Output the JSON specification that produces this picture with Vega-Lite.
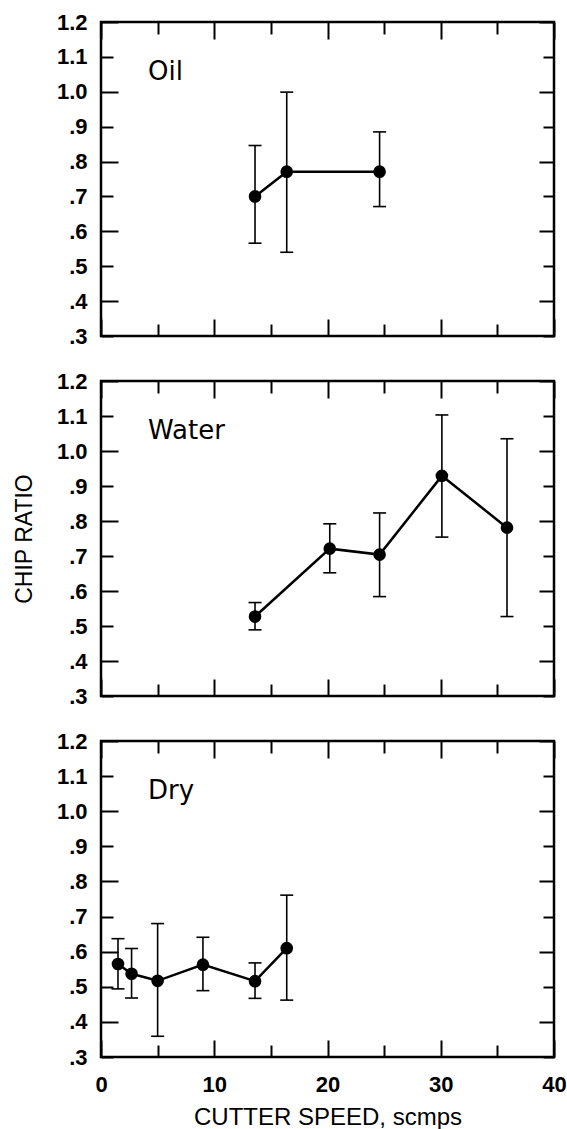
{
  "$schema": "https://vega.github.io/schema/vega-lite/v6.json",
  "padding": {"top": 9, "left": 12, "right": 12, "bottom": 2},
  "spacing": 19,
  "datasets": {
    "d": [
      {"fluid": "Oil", "speed": 13.6, "ratio": 0.700, "lo": 0.566, "hi": 0.846},
      {"fluid": "Oil", "speed": 16.4, "ratio": 0.771, "lo": 0.540, "hi": 0.999},
      {"fluid": "Oil", "speed": 24.6, "ratio": 0.771, "lo": 0.671, "hi": 0.885},
      {"fluid": "Water", "speed": 13.6, "ratio": 0.527, "lo": 0.489, "hi": 0.567},
      {"fluid": "Water", "speed": 20.2, "ratio": 0.721, "lo": 0.652, "hi": 0.792},
      {"fluid": "Water", "speed": 24.6, "ratio": 0.704, "lo": 0.584, "hi": 0.823},
      {"fluid": "Water", "speed": 30.1, "ratio": 0.929, "lo": 0.754, "hi": 1.103},
      {"fluid": "Water", "speed": 35.85, "ratio": 0.781, "lo": 0.527, "hi": 1.035},
      {"fluid": "Dry", "speed": 1.5, "ratio": 0.565, "lo": 0.494, "hi": 0.637},
      {"fluid": "Dry", "speed": 2.7, "ratio": 0.537, "lo": 0.468, "hi": 0.609},
      {"fluid": "Dry", "speed": 5.0, "ratio": 0.517, "lo": 0.359, "hi": 0.680},
      {"fluid": "Dry", "speed": 9.0, "ratio": 0.563, "lo": 0.489, "hi": 0.641},
      {"fluid": "Dry", "speed": 13.6, "ratio": 0.516, "lo": 0.467, "hi": 0.568},
      {"fluid": "Dry", "speed": 16.4, "ratio": 0.610, "lo": 0.462, "hi": 0.761}
    ]
  },
  "config": {
    "view": {"stroke": "black", "strokeWidth": 2.5},
    "font": "Liberation Sans",
    "axis": {
      "domain": false, "grid": false, "tickColor": "black", "tickWidth": 2,
      "labelColor": "black", "titleColor": "black", "labelFont": "Liberation Sans",
      "labelFontSize": 22, "labelFontWeight": "bold", "labelFlush": false,
      "labelOverlap": false, "labelBound": false
    },
    "title": {
      "anchor": "start", "frame": "group", "dx": 47, "offset": -74, "baseline": "alphabetic",
      "font": "DejaVu Sans", "fontSize": 26, "fontWeight": "normal", "color": "black"
    }
  },
  "vconcat": [
    {
      "width": 453, "height": 314,
      "title": {"text": "Oil"},
      "data": {"name": "d"},
      "transform": [{"filter": "datum.fluid === 'Oil'"}],
      "layer": [
        {
          "mark": {"type": "rule", "color": "black", "strokeWidth": 1.6},
          "encoding": {
            "x": {"field": "speed", "type": "quantitative", "scale": {"domain": [0, 40], "nice": false, "zero": false}, "axis": null},
            "y": {"field": "lo", "type": "quantitative", "scale": {"domain": [0.3, 1.2], "nice": false, "zero": false},
              "axis": {"orient": "left", "values": [0.3,0.4,0.5,0.6,0.7,0.8,0.9,1.0,1.1,1.2], "ticks": false, "labelPadding": 14,
                "labelExpr": "datum.value >= 0.95 ? format(datum.value, '.1f') : '.' + format(round(datum.value*10), 'd')", "title": null}},
            "y2": {"field": "hi"}
          }
        },
        {
          "mark": {"type": "tick", "orient": "horizontal", "size": 13, "thickness": 1.6, "color": "black", "opacity": 1},
          "encoding": {
            "x": {"field": "speed", "type": "quantitative", "axis": {"orient": "bottom", "values": [0,5,10,15,20,25,30,35,40], "labels": false, "title": null,
              "tickSize": {"condition": {"test": "datum.value % 10 === 0", "value": -17}, "value": -12}}},
            "y": {"field": "lo", "type": "quantitative", "axis": {"orient": "left", "values": [0.3,0.4,0.5,0.6,0.7,0.8,0.9,1.0,1.1,1.2], "labels": false, "title": null,
              "tickSize": {"condition": {"test": "round(datum.value*10) % 2 === 0", "value": -17}, "value": -12}}}
          }
        },
        {
          "mark": {"type": "tick", "orient": "horizontal", "size": 13, "thickness": 1.6, "color": "black", "opacity": 1},
          "encoding": {
            "x": {"field": "speed", "type": "quantitative", "axis": {"orient": "top", "values": [0,5,10,15,20,25,30,35,40], "labels": false, "title": null,
              "tickSize": {"condition": {"test": "datum.value % 10 === 0", "value": -17}, "value": -12}}},
            "y": {"field": "hi", "type": "quantitative", "axis": {"orient": "right", "values": [0.3,0.4,0.5,0.6,0.7,0.8,0.9,1.0,1.1,1.2], "labels": false, "title": null,
              "tickSize": {"condition": {"test": "round(datum.value*10) % 2 === 0", "value": -15}, "value": -11}}}
          }
        },
        {
          "mark": {"type": "line", "color": "black", "strokeWidth": 2.5},
          "encoding": {
            "x": {"field": "speed", "type": "quantitative", "axis": null},
            "y": {"field": "ratio", "type": "quantitative", "axis": null}
          }
        },
        {
          "mark": {"type": "point", "filled": true, "size": 160, "color": "black", "opacity": 1},
          "encoding": {
            "x": {"field": "speed", "type": "quantitative", "axis": null},
            "y": {"field": "ratio", "type": "quantitative", "axis": null}
          }
        }
      ],
      "resolve": {"axis": {"x": "independent", "y": "independent"}}
    },
    {
      "width": 453, "height": 315,
      "title": {"text": "Water"},
      "data": {"name": "d"},
      "transform": [{"filter": "datum.fluid === 'Water'"}],
      "layer": [
        {
          "mark": {"type": "rule", "color": "black", "strokeWidth": 1.6},
          "encoding": {
            "x": {"field": "speed", "type": "quantitative", "scale": {"domain": [0, 40], "nice": false, "zero": false}, "axis": null},
            "y": {"field": "lo", "type": "quantitative", "scale": {"domain": [0.3, 1.2], "nice": false, "zero": false},
              "axis": {"orient": "left", "values": [0.3,0.4,0.5,0.6,0.7,0.8,0.9,1.0,1.1,1.2], "ticks": false, "labelPadding": 14,
                "labelExpr": "datum.value >= 0.95 ? format(datum.value, '.1f') : '.' + format(round(datum.value*10), 'd')",
                "title": "CHIP RATIO", "titleFontSize": 23, "titleFontWeight": "normal", "titlePadding": 20}},
            "y2": {"field": "hi"}
          }
        },
        {
          "mark": {"type": "tick", "orient": "horizontal", "size": 13, "thickness": 1.6, "color": "black", "opacity": 1},
          "encoding": {
            "x": {"field": "speed", "type": "quantitative", "axis": {"orient": "bottom", "values": [0,5,10,15,20,25,30,35,40], "labels": false, "title": null,
              "tickSize": {"condition": {"test": "datum.value % 10 === 0", "value": -17}, "value": -12}}},
            "y": {"field": "lo", "type": "quantitative", "axis": {"orient": "left", "values": [0.3,0.4,0.5,0.6,0.7,0.8,0.9,1.0,1.1,1.2], "labels": false, "title": null,
              "tickSize": {"condition": {"test": "round(datum.value*10) % 2 === 0", "value": -17}, "value": -12}}}
          }
        },
        {
          "mark": {"type": "tick", "orient": "horizontal", "size": 13, "thickness": 1.6, "color": "black", "opacity": 1},
          "encoding": {
            "x": {"field": "speed", "type": "quantitative", "axis": {"orient": "top", "values": [0,5,10,15,20,25,30,35,40], "labels": false, "title": null,
              "tickSize": {"condition": {"test": "datum.value % 10 === 0", "value": -17}, "value": -12}}},
            "y": {"field": "hi", "type": "quantitative", "axis": {"orient": "right", "values": [0.3,0.4,0.5,0.6,0.7,0.8,0.9,1.0,1.1,1.2], "labels": false, "title": null,
              "tickSize": {"condition": {"test": "round(datum.value*10) % 2 === 0", "value": -15}, "value": -11}}}
          }
        },
        {
          "mark": {"type": "line", "color": "black", "strokeWidth": 2.5},
          "encoding": {
            "x": {"field": "speed", "type": "quantitative", "axis": null},
            "y": {"field": "ratio", "type": "quantitative", "axis": null}
          }
        },
        {
          "mark": {"type": "point", "filled": true, "size": 160, "color": "black", "opacity": 1},
          "encoding": {
            "x": {"field": "speed", "type": "quantitative", "axis": null},
            "y": {"field": "ratio", "type": "quantitative", "axis": null}
          }
        }
      ],
      "resolve": {"axis": {"x": "independent", "y": "independent"}}
    },
    {
      "width": 453, "height": 316,
      "title": {"text": "Dry"},
      "data": {"name": "d"},
      "transform": [{"filter": "datum.fluid === 'Dry'"}],
      "layer": [
        {
          "mark": {"type": "rule", "color": "black", "strokeWidth": 1.6},
          "encoding": {
            "x": {"field": "speed", "type": "quantitative", "scale": {"domain": [0, 40], "nice": false, "zero": false},
              "axis": {"orient": "bottom", "values": [0,10,20,30,40], "ticks": false, "labelPadding": 17,
                "title": "CUTTER SPEED, scmps", "titleFontSize": 24, "titleFontWeight": "normal", "titlePadding": 10}},
            "y": {"field": "lo", "type": "quantitative", "scale": {"domain": [0.3, 1.2], "nice": false, "zero": false},
              "axis": {"orient": "left", "values": [0.3,0.4,0.5,0.6,0.7,0.8,0.9,1.0,1.1,1.2], "ticks": false, "labelPadding": 14,
                "labelExpr": "datum.value >= 0.95 ? format(datum.value, '.1f') : '.' + format(round(datum.value*10), 'd')", "title": null}},
            "y2": {"field": "hi"}
          }
        },
        {
          "mark": {"type": "tick", "orient": "horizontal", "size": 13, "thickness": 1.6, "color": "black", "opacity": 1},
          "encoding": {
            "x": {"field": "speed", "type": "quantitative", "axis": {"orient": "bottom", "values": [0,5,10,15,20,25,30,35,40], "labels": false, "title": null,
              "tickSize": {"condition": {"test": "datum.value % 10 === 0", "value": -17}, "value": -12}}},
            "y": {"field": "lo", "type": "quantitative", "axis": {"orient": "left", "values": [0.3,0.4,0.5,0.6,0.7,0.8,0.9,1.0,1.1,1.2], "labels": false, "title": null,
              "tickSize": {"condition": {"test": "round(datum.value*10) % 2 === 0", "value": -17}, "value": -12}}}
          }
        },
        {
          "mark": {"type": "tick", "orient": "horizontal", "size": 13, "thickness": 1.6, "color": "black", "opacity": 1},
          "encoding": {
            "x": {"field": "speed", "type": "quantitative", "axis": {"orient": "top", "values": [0,5,10,15,20,25,30,35,40], "labels": false, "title": null,
              "tickSize": {"condition": {"test": "datum.value % 10 === 0", "value": -17}, "value": -12}}},
            "y": {"field": "hi", "type": "quantitative", "axis": {"orient": "right", "values": [0.3,0.4,0.5,0.6,0.7,0.8,0.9,1.0,1.1,1.2], "labels": false, "title": null,
              "tickSize": {"condition": {"test": "round(datum.value*10) % 2 === 0", "value": -15}, "value": -11}}}
          }
        },
        {
          "mark": {"type": "line", "color": "black", "strokeWidth": 2.5},
          "encoding": {
            "x": {"field": "speed", "type": "quantitative", "axis": null},
            "y": {"field": "ratio", "type": "quantitative", "axis": null}
          }
        },
        {
          "mark": {"type": "point", "filled": true, "size": 160, "color": "black", "opacity": 1},
          "encoding": {
            "x": {"field": "speed", "type": "quantitative", "axis": null},
            "y": {"field": "ratio", "type": "quantitative", "axis": null}
          }
        }
      ],
      "resolve": {"axis": {"x": "independent", "y": "independent"}}
    }
  ]
}
